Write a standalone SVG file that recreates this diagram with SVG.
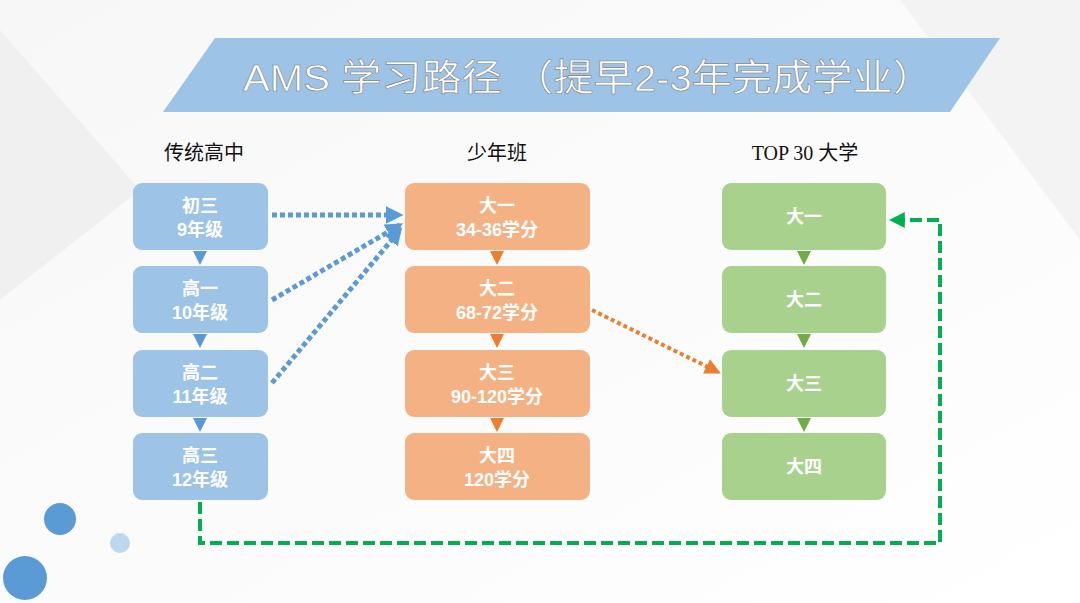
<svg xmlns="http://www.w3.org/2000/svg" width="1080" height="603" viewBox="0 0 1080 603">
<defs>
<style>
.bl{fill:#9dc3e6}.or{fill:#f4b183}.gr{fill:#a9d18e}
.t{font-family:"Liberation Sans","Noto Sans CJK SC",sans-serif;font-weight:bold;font-size:18px;fill:#fff;text-anchor:middle}
.h{font-family:"Liberation Serif","Noto Sans CJK SC",serif;font-size:20px;fill:#111;text-anchor:middle}
</style>
<marker id="ab" viewBox="0 0 10 10" refX="8" refY="5" markerWidth="3.5" markerHeight="3.5" orient="auto"><path d="M0,0L10,5L0,10z" fill="#5b9bd5"/></marker>
<marker id="ao" viewBox="0 0 10 10" refX="8" refY="5" markerWidth="4" markerHeight="4" orient="auto"><path d="M0,0L10,5L0,10z" fill="#ed7d31"/></marker>
<marker id="ag" viewBox="0 0 10 10" refX="8" refY="5" markerWidth="4" markerHeight="4" orient="auto"><path d="M0,0L10,5L0,10z" fill="#00b050"/></marker>
<linearGradient id="bg" x1="0" y1="0" x2="1" y2="1"><stop offset="0" stop-color="#f7f7f7"/><stop offset="1" stop-color="#ffffff"/></linearGradient>
</defs>
<rect width="1080" height="603" fill="url(#bg)"/>
<polygon points="0,30 140,190 0,300" fill="#f0f0f0"/>
<polygon points="900,0 1080,0 1080,240" fill="#f3f3f3"/>
<circle cx="60" cy="519" r="16" fill="#5b9bd5"/>
<circle cx="120" cy="543" r="10" fill="#bdd7ee"/>
<circle cx="25" cy="578" r="22" fill="#5b9bd5"/>
<g id="title">
<polygon points="215,38 1000,38 950,112 163,112" fill="#9dc3e6"/>
<text x="588" y="91" font-family="Liberation Sans,Noto Sans CJK SC,sans-serif" font-size="37" fill="#fff" stroke="#7f7f7f" stroke-width="0.6" text-anchor="middle" textLength="690" lengthAdjust="spacingAndGlyphs">AMS 学习路径 （提早2-3年完成学业）</text>
</g>
<g id="headers">
<text class="h" x="204" y="160">传统高中</text>
<text class="h" x="497" y="160">少年班</text>
<text class="h" x="805" y="160">TOP 30 大学</text>
</g>
<g id="blue">
<g id="b1"><rect class="bl" x="133" y="183" width="135" height="67" rx="9"/><text class="t" x="200" y="212">初三</text><text class="t" x="200" y="236">9年级</text></g>
<g id="b2"><rect class="bl" x="133" y="266" width="135" height="67" rx="9"/><text class="t" x="200" y="295">高一</text><text class="t" x="200" y="319">10年级</text></g>
<g id="b3"><rect class="bl" x="133" y="350" width="135" height="67" rx="9"/><text class="t" x="200" y="379">高二</text><text class="t" x="200" y="403">11年级</text></g>
<g id="b4"><rect class="bl" x="133" y="433" width="135" height="67" rx="9"/><text class="t" x="200" y="462">高三</text><text class="t" x="200" y="486">12年级</text></g>
<path d="M193,251h14l-7,14z M193,334h14l-7,14z M193,418h14l-7,14z" fill="#5b9bd5"/>
</g>
<g id="orange">
<g id="o1"><rect class="or" x="405" y="183" width="185" height="67" rx="9"/><text class="t" x="497" y="212">大一</text><text class="t" x="497" y="236">34-36学分</text></g>
<g id="o2"><rect class="or" x="405" y="266" width="185" height="67" rx="9"/><text class="t" x="497" y="295">大二</text><text class="t" x="497" y="319">68-72学分</text></g>
<g id="o3"><rect class="or" x="405" y="350" width="185" height="67" rx="9"/><text class="t" x="497" y="379">大三</text><text class="t" x="497" y="403">90-120学分</text></g>
<g id="o4"><rect class="or" x="405" y="433" width="185" height="67" rx="9"/><text class="t" x="497" y="462">大四</text><text class="t" x="497" y="486">120学分</text></g>
<path d="M490,251h14l-7,14z M490,334h14l-7,14z M490,418h14l-7,14z" fill="#ed7d31"/>
</g>
<g id="green">
<g id="g1"><rect class="gr" x="722" y="183" width="164" height="67" rx="9"/><text class="t" x="804" y="223">大一</text></g>
<g id="g2"><rect class="gr" x="722" y="266" width="164" height="67" rx="9"/><text class="t" x="804" y="306">大二</text></g>
<g id="g3"><rect class="gr" x="722" y="350" width="164" height="67" rx="9"/><text class="t" x="804" y="390">大三</text></g>
<g id="g4"><rect class="gr" x="722" y="433" width="164" height="67" rx="9"/><text class="t" x="804" y="473">大四</text></g>
<path d="M797,251h14l-7,14z M797,334h14l-7,14z M797,418h14l-7,14z" fill="#70ad47"/>
</g>
<g id="connectors" fill="none">
<path d="M272,215H400" stroke="#5b9bd5" stroke-width="5" stroke-dasharray="5,3" marker-end="url(#ab)"/>
<path d="M272,300L400,225" stroke="#5b9bd5" stroke-width="5" stroke-dasharray="5,3" marker-end="url(#ab)"/>
<path d="M272,383L400,230" stroke="#5b9bd5" stroke-width="5" stroke-dasharray="5,3" marker-end="url(#ab)"/>
<path d="M592,310L718,372" stroke="#ed7d31" stroke-width="4" stroke-dasharray="4,3" marker-end="url(#ao)"/>
<path d="M200,502V543H940V220H892" stroke="#00b050" stroke-width="4" stroke-dasharray="12,5" marker-end="url(#ag)"/>
</g>
</svg>
